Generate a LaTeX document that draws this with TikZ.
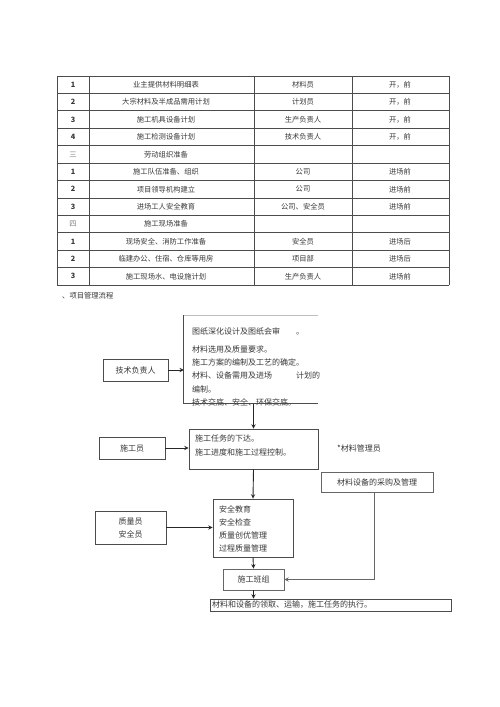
\documentclass[tikz,border=0pt]{standalone}
\usepackage{fontspec}
\usepackage{xcolor}
\usepackage{tikz}
\usetikzlibrary{positioning}
\newfontfamily\cjk{Noto Sans CJK SC}
\colorlet{ink}{black!78}
\colorlet{rule}{black!70}
\tikzstyle{cell} = [inner sep=0pt, text=ink, font=\cjk\fontsize{7.3}{9}\selectfont]
\tikzstyle{process} = [rectangle, draw=rule, line width=0.9pt, inner sep=0pt, text=ink, font=\cjk\fontsize{8}{13}\selectfont]
\tikzstyle{note} = [inner sep=0pt, text=ink, align=left, font=\cjk\fontsize{8}{13.3}\selectfont]
\tikzstyle{arrow} = [-stealth, line width=0.9pt, black!85]

\begin{document}
\begin{tikzpicture}[x=1pt, y=-1pt]
		\useasboundingbox[fill=white] (0,0) rectangle (500,707);
		% table
		\foreach \r in {0,...,12}
			\draw[rule, line width=0.8pt] (57,{76+17.42*\r}) -- (449,{76+17.42*\r});
		\foreach \c in {57,89,254,352,449}
			\draw[rule, line width=0.8pt] (\c,76) -- (\c,285);
		\foreach \n/\item/\who/\when [count=\r] in {
				{\bfseries 1}/业主提供材料明细表/材料员/开，前,
				{\bfseries 2}/大宗材料及半成品需用计划/计划员/开，前,
				{\bfseries 3}/施工机具设备计划/生产负责人/开，前,
				{\bfseries 4}/施工检测设备计划/技术负责人/开，前,
				{\color{gray}三}/劳动组织准备/{}/{},
				{\bfseries 1}/施工队伍准备、组织/公司/进场前,
				{\bfseries 2}/项目领导机构建立/公司/进场前,
				{\bfseries 3}/进场工人安全教育/公司、安全员/进场前,
				{\color{gray}四}/施工现场准备/{}/{},
				{\bfseries 1}/现场安全、消防工作准备/安全员/进场后,
				{\bfseries 2}/临建办公、住宿、仓库等用房/项目部/进场后,
				{\bfseries 3}/施工现场水、电设施计划/生产负责人/进场前}
		{
			\node (Num\r)[cell] at (73,{76+17.42*(\r-0.5)}) {\n};
			\node (Item\r)[cell] at (166,{76+17.42*(\r-0.5)}) {\item};
			\node (Who\r)[cell] at (303,{76+17.42*(\r-0.5)}) {\who};
			\node (When\r)[cell] at (400,{76+17.42*(\r-0.5)}) {\when};
		}
		\node (Caption)[cell, anchor=west] at (62,296) {、项目管理流程};

		% flow chart
		\node (TechLead)[process, minimum width=65pt, minimum height=22pt] at (135.5,370) {技术负责人};
		\node (Design)[minimum width=134pt, minimum height=88pt, inner sep=0pt] at (251,359.5) {};
		\draw[black!25, line width=0.9pt] (Design.north west) -- (Design.north east);
		\node (DesignText)[note, anchor=north west] at (192,327.5) {图纸深化设计及图纸会审\qquad 。\\[4.5pt]
			材料选用及质量要求。\\
			施工方案的编制及工艺的确定。\\
			材料、设备需用及进场\qquad\quad 计划的\\
			编制。\\
			技术交底、安全、环保交底。};
		\draw[rule, line width=0.9pt] (Design.north west) -- (Design.south west) -- (Design.south east);
		\node (Worker)[process, minimum width=66pt, minimum height=22pt] at (132,448) {施工员};
		\node (Task)[process, minimum width=129pt, minimum height=40pt] at (253.5,449) {};
		\node (TaskText)[note, anchor=north west] at (195,435) {施工任务的下达。\\施工进度和施工过程控制。};
		\node (MatNote)[note, anchor=west] at (337,448) {*材料管理员};
		\node (Purchase)[process, draw=black!60, minimum width=112pt, minimum height=20pt] at (377,482) {材料设备的采购及管理};
		\node (Quality)[process, align=center, minimum width=71pt, minimum height=33pt] at (130.5,527.5) {质量员\\安全员};
		\node (Safety)[process, minimum width=80pt, minimum height=58pt] at (253,528) {};
		\node (SafetyText)[note, anchor=north west] at (219,505) {安全教育\\安全检查\\质量创优管理\\过程质量管理};
		\node (Team)[process, draw=black!60, minimum width=61pt, minimum height=21pt] at (253.5,579.5) {施工班组};
		\node (Execute)[process, minimum width=241pt, minimum height=12pt] at (330.5,605) {};
		\node (ExecText)[note, anchor=west] at (212,605) {材料和设备的领取、运输，施工任务的执行。};

		\draw [arrow] (TechLead.east) -- (TechLead.east -| Design.west);
		\draw [arrow] (Design.south -| Task.north) -- (Task.north);
		\draw [arrow] (Worker.east) -- (Worker.east -| Task.west);
		\draw [arrow] (Task.south) -- (Safety.north);
		\draw [arrow] (Quality.east) -- (Quality.east -| Safety.west);
		\draw [arrow] (Safety.south) -- (Team.north);
		\draw [arrow, black!60] ([xshift=-3pt]Purchase.south) |- (Team.east);
		\draw [arrow] (Team.south) -- (Team.south |- Execute.north);
	\end{tikzpicture}
\end{document}
